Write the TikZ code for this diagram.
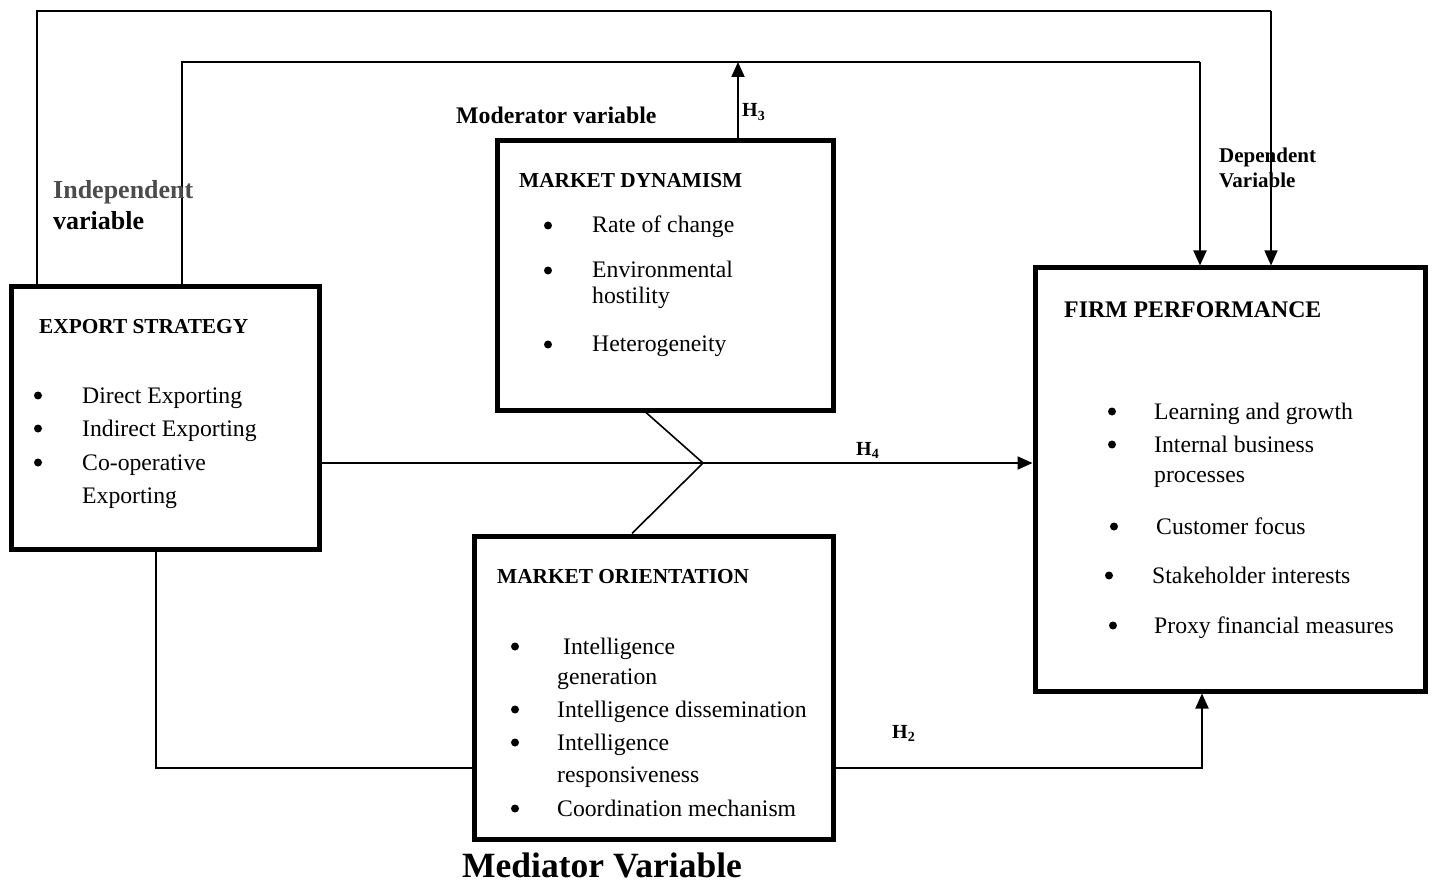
\documentclass[tikz,border=0pt]{standalone}
\usepackage{fontspec}
\setmainfont{Liberation Serif}
\usetikzlibrary{arrows.meta}
\newcommand\myfs[2]{\fontsize{#1}{#2}\selectfont}
\tikzset{
  box/.style={draw, line width=5pt, inner sep=0pt},
  txt/.style={anchor=base west, inner sep=0pt, font=\myfs{23.7}{28}},
  bul/.style={circle, fill, draw=none, inner sep=0pt, minimum size=8pt, yshift=7.5pt},
  ttl/.style={anchor=base west, inner sep=0pt, font=\bfseries\myfs{21.3}{24}},
  lbl/.style={anchor=base west, inner sep=0pt, font=\bfseries\myfs{23.8}{28}},
  hl/.style={anchor=base west, inner sep=0pt, font=\bfseries\myfs{20}{24}},
  conn/.style={line width=2pt},
  arr/.style={line width=2pt, -{Triangle[width=13pt,length=15pt]}},
}
\begin{document}
\begin{tikzpicture}[x=1pt,y=-1pt]
\useasboundingbox (0,0) rectangle (1432,882);
% boxes
\node[box, minimum width=308pt, minimum height=262pt] (ES) at (165,418) {};
\node[box, minimum width=336pt, minimum height=269pt] (MD) at (665,275.5) {};
\node[box, minimum width=359pt, minimum height=303pt] (MO) at (653.5,687.5) {};
\node[box, minimum width=390pt, minimum height=423pt] (FP) at (1230,479.5) {};
% coordinates
\coordinate (o1) at (37,11);
\coordinate (o2) at (1271,11);
\coordinate (i1) at (182,62);
\coordinate (i2) at (1200,62);
\coordinate (h3) at (738,62);
\coordinate (zz) at (703,463);
\coordinate (zt) at (646,0);
\coordinate (zb) at (632,0);
\coordinate (b1) at (156,768);
\coordinate (b2) at (1202,768);
% connectors
\draw[line width=1.4pt] (ES.north -| o1) -- (o1) -- (o2);
\draw[line width=1.4pt, -{Triangle[width=13pt,length=15pt]}] (o2) -- (o2 |- FP.north);
\draw[conn] (ES.north -| i1) -- (i1) -- (i2);
\draw[arr] (i2) -- (i2 |- FP.north);
\draw[arr] (MD.north -| h3) -- (h3);
\draw[arr] (ES.east |- zz) -- (FP.west |- zz);
\draw[line width=1.6pt] (MD.south -| zt) -- (zz) -- (MO.north -| zb);
\draw[conn] (ES.south -| b1) -- (b1) -- (MO.west |- b1);
\draw[arr] (MO.east |- b2) -- (b2) -- (FP.south -| b2);
% outside labels
\node[lbl] (modl) at (456,124) {Moderator variable};
\node[lbl, font=\bfseries\myfs{26}{30}, text=black!70] (ind1) at (53,199) {Independent};
\node[lbl, font=\bfseries\myfs{26}{30}] (ind2) at (53,230) {variable};
\node[lbl, font=\bfseries\myfs{21}{24}] (dep1) at (1219,163) {Dependent};
\node[lbl, font=\bfseries\myfs{21}{24}] (dep2) at (1219,188) {Variable};
\node[lbl, font=\bfseries\myfs{35.5}{40}] (medl) at (462,877) {Mediator Variable};
\node[hl] (H3) at (742,117) {H\textsubscript{3}};
\node[hl] (H4) at (856,455) {H\textsubscript{4}};
\node[hl] (H2) at (892,738) {H\textsubscript{2}};
% export strategy
\node[ttl] (est) at (39,334) {EXPORT STRATEGY};
\node[bul] (esb1) at (38,403) {};
\node[txt] (es1) at (82,403) {Direct Exporting};
\node[bul] (esb2) at (38,436) {};
\node[txt] (es2) at (82,436) {Indirect Exporting};
\node[bul] (esb3) at (38,470) {};
\node[txt] (es3) at (82,470) {Co-operative};
\node[txt] (es4) at (82,503) {Exporting};
% market dynamism
\node[ttl] (mdt) at (519,188) {MARKET DYNAMISM};
\node[bul] (mdb1) at (548,233) {};
\node[txt] (md1) at (592,233) {Rate of change};
\node[bul] (mdb2) at (548,278) {};
\node[txt] (md2) at (592,278) {Environmental};
\node[txt] (md3) at (592,304) {hostility};
\node[bul] (mdb3) at (548,352) {};
\node[txt] (md4) at (592,352) {Heterogeneity};
% market orientation
\node[ttl] (mot) at (497,583) {MARKET ORIENTATION};
\node[bul] (mob1) at (515,654) {};
\node[txt] (mo1) at (563,654) {Intelligence};
\node[txt] (mo2) at (557,684) {generation};
\node[bul] (mob2) at (515,717) {};
\node[txt] (mo3) at (557,717) {Intelligence dissemination};
\node[bul] (mob3) at (515,750) {};
\node[txt] (mo4) at (557,750) {Intelligence};
\node[txt] (mo5) at (557,782) {responsiveness};
\node[bul] (mob4) at (515,816) {};
\node[txt] (mo6) at (557,816) {Coordination mechanism};
% firm performance
\node[ttl, font=\bfseries\myfs{23.8}{28}] (fpt) at (1064,318) {FIRM PERFORMANCE};
\node[bul] (fpb1) at (1112,419) {};
\node[txt] (fp1) at (1154,419) {Learning and growth};
\node[bul] (fpb2) at (1112,452) {};
\node[txt] (fp2) at (1154,452) {Internal business};
\node[txt] (fp3) at (1154,482) {processes};
\node[bul] (fpb3) at (1114,534) {};
\node[txt] (fp4) at (1156,534) {Customer focus};
\node[bul] (fpb4) at (1109,583) {};
\node[txt] (fp5) at (1152,583) {Stakeholder interests};
\node[bul] (fpb5) at (1113,633) {};
\node[txt] (fp6) at (1154,633) {Proxy financial measures};
\end{tikzpicture}
\end{document}
